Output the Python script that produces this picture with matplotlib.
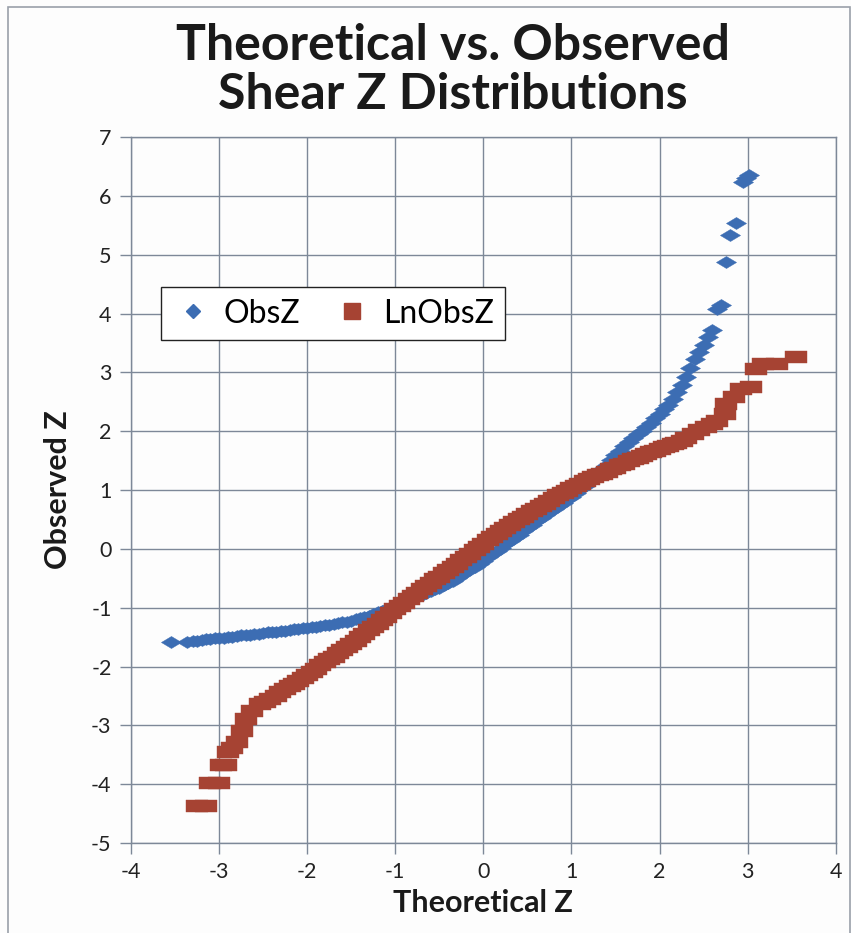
import matplotlib

matplotlib.use("Agg")
import matplotlib.pyplot as plt
from matplotlib.lines import Line2D
from matplotlib.patches import Rectangle
from matplotlib.path import Path

plt.rcParams["font.family"] = ["Lato", "DejaVu Sans"]
plt.rcParams["axes.unicode_minus"] = False

# ObsZ (blue diamonds): theoretical z vs observed z
obs_x = [-3.55, -3.36, -3.30, -3.25, -3.20, -3.15, -3.10, -3.05, -3.00, -2.95, -2.90, -2.85,
         -2.80, -2.75, -2.70, -2.65, -2.60, -2.55, -2.50, -2.45, -2.40, -2.35, -2.30, -2.25,
         -2.20, -2.15, -2.10, -2.05, -2.00, -1.95, -1.90, -1.85, -1.80, -1.75, -1.70, -1.65,
         -1.60, -1.55, -1.50, -1.45, -1.40, -1.35, -1.30, -1.25, -1.20, -1.15, -1.10, -1.05,
         -1.00, -0.95, -0.90, -0.85, -0.80, -0.75, -0.70, -0.65, -0.60, -0.55, -0.50, -0.45,
         -0.40, -0.35, -0.30, -0.25, -0.20, -0.15, -0.10, -0.05, 0.00, 0.05, 0.10, 0.15,
         0.20, 0.25, 0.30, 0.35, 0.40, 0.45, 0.50, 0.55, 0.60, 0.65, 0.70, 0.75, 0.80, 0.85,
         0.90, 0.95, 1.00, 1.05, 1.10, 1.15, 1.20, 1.25, 1.30, 1.35, 1.40, 1.45, 1.50, 1.55,
         1.60, 1.65, 1.70, 1.75, 1.80, 1.85, 1.90, 1.95, 2.00, 2.05, 2.10, 2.15, 2.20, 2.25,
         2.30, 2.35, 2.40, 2.45, 2.50, 2.55, 2.60, 2.65, 2.70, 2.76, 2.80, 2.87, 2.95, 2.98, 3.02]
obs_y = [-1.59, -1.58, -1.56, -1.56, -1.55, -1.54, -1.53, -1.52, -1.51, -1.51, -1.50, -1.49,
         -1.48, -1.47, -1.46, -1.46, -1.45, -1.44, -1.43, -1.42, -1.41, -1.41, -1.40, -1.39,
         -1.38, -1.37, -1.36, -1.35, -1.34, -1.33, -1.32, -1.31, -1.30, -1.29, -1.27, -1.26,
         -1.25, -1.24, -1.22, -1.20, -1.18, -1.16, -1.14, -1.11, -1.08, -1.05, -1.02, -0.99,
         -0.96, -0.93, -0.90, -0.87, -0.84, -0.81, -0.78, -0.75, -0.72, -0.69, -0.66, -0.62,
         -0.58, -0.54, -0.50, -0.45, -0.40, -0.35, -0.30, -0.25, -0.20, -0.14, -0.09, -0.03,
         0.02, 0.08, 0.13, 0.19, 0.24, 0.30, 0.36, 0.41, 0.47, 0.52, 0.57, 0.63, 0.68, 0.73,
         0.78, 0.84, 0.89, 0.95, 1.01, 1.07, 1.13, 1.20, 1.28, 1.35, 1.43, 1.51, 1.60, 1.67,
         1.75, 1.82, 1.89, 1.95, 2.01, 2.08, 2.14, 2.22, 2.30, 2.37, 2.44, 2.55, 2.66, 2.79,
         2.92, 3.08, 3.22, 3.35, 3.47, 3.60, 3.72, 4.08, 4.14, 4.88, 5.33, 5.54, 6.24, 6.30, 6.36]

# LnObsZ (red squares)
ln_x = [-3.25, -3.15, -3.10, -3.00, -2.98, -2.92, -2.90, -2.85, -2.80, -2.74, -2.69, -2.63,
        -2.54, -2.48, -2.42, -2.36, -2.31, -2.25, -2.20, -2.15, -2.10, -2.05, -2.00, -1.95,
        -1.90, -1.85, -1.80, -1.75, -1.70, -1.65, -1.60, -1.55, -1.50, -1.45, -1.40, -1.35,
        -1.30, -1.25, -1.20, -1.15, -1.10, -1.05, -1.00, -0.95, -0.90, -0.85, -0.80, -0.75,
        -0.70, -0.65, -0.60, -0.55, -0.50, -0.45, -0.40, -0.35, -0.30, -0.25, -0.20, -0.15,
        -0.10, -0.05, 0.00, 0.05, 0.10, 0.15, 0.20, 0.25, 0.30, 0.35, 0.40, 0.45, 0.50, 0.55,
        0.60, 0.65, 0.70, 0.75, 0.80, 0.85, 0.90, 0.95, 1.00, 1.05, 1.10, 1.15, 1.20, 1.25,
        1.30, 1.35, 1.40, 1.45, 1.50, 1.55, 1.60, 1.65, 1.70, 1.75, 1.80, 1.85, 1.90, 1.95,
        2.00, 2.05, 2.10, 2.15, 2.19, 2.25, 2.30, 2.38, 2.45, 2.53, 2.60, 2.65, 2.74, 2.76,
        2.84, 2.93, 3.04, 3.10, 3.18, 3.33, 3.55]
ln_y = [-4.37, -4.37, -3.98, -3.98, -3.68, -3.68, -3.45, -3.38, -3.29, -3.09, -2.89, -2.75,
        -2.64, -2.60, -2.55, -2.50, -2.44, -2.38, -2.33, -2.29, -2.24, -2.20, -2.15, -2.10,
        -2.04, -1.98, -1.93, -1.88, -1.83, -1.77, -1.72, -1.67, -1.62, -1.56, -1.50, -1.44,
        -1.38, -1.33, -1.27, -1.21, -1.15, -1.09, -1.03, -0.97, -0.92, -0.86, -0.80, -0.75,
        -0.69, -0.63, -0.58, -0.52, -0.47, -0.41, -0.36, -0.30, -0.25, -0.19, -0.13, -0.08,
        -0.02, 0.04, 0.09, 0.15, 0.21, 0.26, 0.31, 0.36, 0.41, 0.46, 0.50, 0.55, 0.59, 0.64,
        0.68, 0.73, 0.77, 0.82, 0.86, 0.91, 0.95, 0.99, 1.03, 1.07, 1.11, 1.15, 1.18, 1.22,
        1.25, 1.28, 1.31, 1.35, 1.38, 1.42, 1.45, 1.49, 1.52, 1.55, 1.58, 1.61, 1.64, 1.67,
        1.70, 1.73, 1.75, 1.78, 1.80, 1.84, 1.88, 1.96, 2.02, 2.07, 2.13, 2.18, 2.30, 2.47,
        2.58, 2.72, 2.75, 3.05, 3.15, 3.15, 3.26]

x_ticks = [-4, -3, -2, -1, 0, 1, 2, 3, 4]
y_ticks = [-5, -4, -3, -2, -1, 0, 1, 2, 3, 4, 5, 6, 7]

BLUE = "#3C6DB3"
RED = "#A64333"
GRID = "#7D8898"

# wide markers, the original chart is stretched sideways
diamond = Path([(-1, 0), (0, 0.6), (1, 0), (0, -0.6), (-1, 0)],
               [Path.MOVETO, Path.LINETO, Path.LINETO, Path.LINETO, Path.CLOSEPOLY])
rect = Path([(-1, -0.5), (1, -0.5), (1, 0.5), (-1, 0.5), (-1, -0.5)],
            [Path.MOVETO, Path.LINETO, Path.LINETO, Path.LINETO, Path.CLOSEPOLY])

fig = plt.figure(figsize=(8.51, 9.33), dpi=100, facecolor="#FDFDFD")
fig.patches.append(Rectangle((0.009, -0.01), 0.99, 1.002, transform=fig.transFigure,
                             fill=False, edgecolor="#9AA0AA", linewidth=1.2))

ax = fig.add_axes([0.154, 0.0965, 0.828, 0.7565])
ax.set_facecolor("#FDFDFD")

ax.plot(obs_x, obs_y, linestyle="none", marker=diamond, markersize=14.5,
        markerfacecolor=BLUE, markeredgecolor=BLUE, markeredgewidth=0.3, zorder=3)
ax.plot(ln_x, ln_y, linestyle="none", marker=rect, markersize=16.5,
        markerfacecolor=RED, markeredgecolor=RED, markeredgewidth=0.3, zorder=4)

ax.set_xlim(-4, 4)
ax.set_ylim(-5, 7)
ax.set_xticks(x_ticks)
ax.set_yticks(y_ticks)
ax.grid(True, color=GRID, linewidth=1.0)
ax.set_axisbelow(True)
for s in ax.spines.values():
    s.set_color(GRID)
    s.set_linewidth(1.0)
ax.tick_params(direction="out", length=8, width=1.0, color=GRID,
               labelsize=15.5, labelcolor="#222222", pad=6)

ax.set_xlabel("Theoretical Z", fontsize=22, fontweight="bold", labelpad=5, color="#1a1a1a")
ax.set_ylabel("Observed Z", fontsize=22, fontweight="bold", labelpad=14, color="#1a1a1a")

fig.text(0.532, 0.925, "Theoretical vs. Observed\nShear Z Distributions",
         ha="center", va="center", fontsize=36, fontweight="bold",
         linespacing=1.12, color="#1a1a1a")

handles = [
    Line2D([0], [0], linestyle="none", marker="D", markersize=7,
           markerfacecolor=BLUE, markeredgecolor=BLUE, label="ObsZ"),
    Line2D([0], [0], linestyle="none", marker="s", markersize=11,
           markerfacecolor=RED, markeredgecolor=RED, label="LnObsZ"),
]
leg = ax.legend(handles=handles, loc="upper left", bbox_to_anchor=(0.189, 0.692),
                bbox_transform=fig.transFigure, ncol=2, fontsize=23, frameon=True,
                fancybox=False, edgecolor="#222222", framealpha=1.0, borderaxespad=0,
                handletextpad=0.3, columnspacing=1.0, borderpad=0.35, handlelength=1.3)
leg.get_frame().set_linewidth(1.0)

fig.savefig("out.png", dpi=100, facecolor=fig.get_facecolor())
